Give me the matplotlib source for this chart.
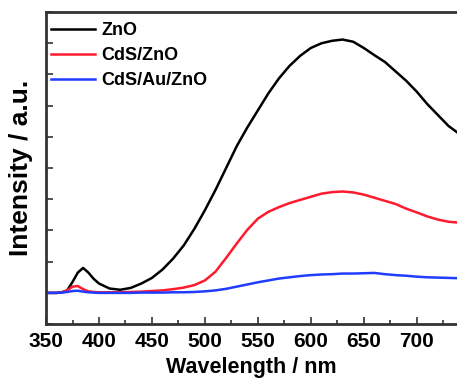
import matplotlib
matplotlib.use("Agg")
import matplotlib.pyplot as plt
from matplotlib.ticker import MultipleLocator

# wavelength grid (nm) and intensities (a.u.)
wavelength = [350, 360, 365, 370, 375, 380, 385, 390, 395, 400,
              410, 420, 430, 440, 450, 460, 470, 480, 490, 500,
              510, 520, 530, 540, 550, 560, 570, 580, 590, 600,
              610, 620, 630, 640, 650, 660, 670, 680, 690, 700,
              710, 720, 730, 740]

zno = [1.00, 1.00, 1.02, 1.08, 1.35, 1.65, 1.80, 1.65, 1.45, 1.30,
       1.14, 1.10, 1.16, 1.30, 1.48, 1.75, 2.10, 2.52, 3.05, 3.65,
       4.30, 5.00, 5.70, 6.30, 6.85, 7.40, 7.88, 8.28, 8.60, 8.85,
       9.00, 9.08, 9.12, 9.05, 8.85, 8.62, 8.40, 8.10, 7.80, 7.45,
       7.05, 6.70, 6.35, 6.10]

cds_zno = [1.00, 1.00, 1.02, 1.08, 1.20, 1.22, 1.12, 1.05, 1.03, 1.02,
           1.02, 1.02, 1.03, 1.04, 1.06, 1.08, 1.12, 1.17, 1.25, 1.40,
           1.68, 2.12, 2.58, 3.02, 3.38, 3.60, 3.75, 3.88, 3.98, 4.08,
           4.18, 4.23, 4.25, 4.22, 4.15, 4.05, 3.95, 3.85, 3.70, 3.58,
           3.45, 3.35, 3.28, 3.25]

cds_au_zno = [1.00, 1.00, 1.01, 1.03, 1.06, 1.07, 1.04, 1.02, 1.01, 1.00,
              1.00, 1.00, 1.00, 1.01, 1.01, 1.01, 1.02, 1.02, 1.03, 1.05,
              1.08, 1.13, 1.20, 1.27, 1.34, 1.40, 1.46, 1.50, 1.54, 1.57,
              1.59, 1.60, 1.62, 1.62, 1.63, 1.64, 1.60, 1.57, 1.55, 1.52,
              1.50, 1.49, 1.48, 1.47]

labels = ["ZnO", "CdS/ZnO", "CdS/Au/ZnO"]
colors = ["black", "#ff1a2e", "#1f3cff"]

plt.rcParams['font.family'] = ['Liberation Sans', 'DejaVu Sans']
plt.rcParams['font.weight'] = 'bold'

fig = plt.figure(figsize=(4.57, 3.84), dpi=100)
ax = fig.add_axes([0.1007, 0.156, 0.8993, 0.8125])

for y, lab, c in zip([zno, cds_zno, cds_au_zno], labels, colors):
    ax.plot(wavelength, y, color=c, lw=1.8, label=lab)

ax.set_xlim(350, 738)
ax.set_ylim(0, 10)

ax.xaxis.set_major_locator(MultipleLocator(50))
ax.xaxis.set_minor_locator(MultipleLocator(25))
ax.yaxis.set_major_locator(MultipleLocator(1))
ax.set_yticklabels([])
ax.tick_params(axis='both', which='both', direction='in', width=1.2,
               color='#333333', right=False, top=False)
ax.tick_params(axis='both', which='major', length=5)
ax.tick_params(axis='x', which='minor', length=3)
ax.tick_params(axis='x', labelsize=15, pad=6)
for lbl in ax.get_xticklabels():
    lbl.set_fontweight('bold')

for s in ['left', 'bottom', 'top']:
    ax.spines[s].set_linewidth(2)
    ax.spines[s].set_color('#333333')
ax.spines['right'].set_visible(False)

ax.set_xlabel('Wavelength / nm', fontsize=15.5, fontweight='bold', labelpad=4)
ax.set_ylabel('Intensity / a.u.', fontsize=19, fontweight='bold', labelpad=6)

leg = ax.legend(loc='upper left', bbox_to_anchor=(0.0, 0.985), frameon=False,
                fontsize=13, handlelength=2.4, handletextpad=0.35,
                labelspacing=0.45, borderaxespad=0.1, borderpad=0.2)
for t in leg.get_texts():
    t.set_fontweight('bold')

fig.savefig('out.png', dpi=100)
